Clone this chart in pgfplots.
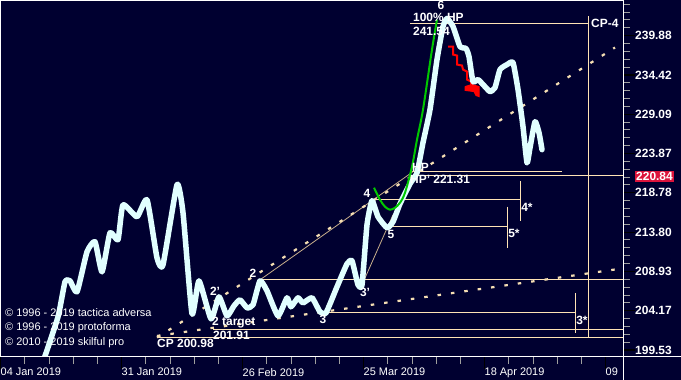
\documentclass[border=0pt]{standalone}
\usepackage{fontspec}
\setmainfont{Liberation Sans}
\usepackage{pgfplots}
\pgfplotsset{compat=1.18}
\definecolor{bg}{RGB}{0,0,48}
\definecolor{mainline}{RGB}{225,255,255}
\definecolor{lvl}{RGB}{255,228,181}
\definecolor{dotc}{RGB}{245,222,179}
\definecolor{thinc}{RGB}{200,175,140}
\definecolor{grn}{RGB}{0,200,0}
\definecolor{boxred}{RGB}{220,20,60}
\newcommand{\lbl}{\fontsize{12}{14}\selectfont\bfseries}
\newcommand{\cpy}{\fontsize{11}{13}\selectfont}
\begin{document}
\begin{tikzpicture}
\useasboundingbox (0bp,0bp) rectangle (681bp,380bp);
\fill[bg] (0bp,0bp) rectangle (681bp,380bp);
\begin{axis}[
  at={(0bp,23bp)}, anchor=south west,
  width=623bp, height=357bp, scale only axis,
  xmin=0, xmax=623,
  y coord trafo/.code={\pgfmathparse{ln(#1)}},
  y coord inv trafo/.code={\pgfmathparse{exp(#1)}},
  ymin=198.71, ymax=244.96,
  clip mode=individual,
  axis line style={white, line width=1bp},
  ytick pos=right, yticklabel pos=right,
  ytick={199.53,204.17,208.93,213.80,218.78,223.87,229.09,234.42,239.88},
  yticklabels={199.53,204.17,208.93,213.80,218.78,223.87,229.09,234.42,239.88},
  minor ytick={200.46,201.39,202.31,203.24,205.12,206.07,207.03,207.98,209.90,210.88,211.85,212.83,214.80,215.79,216.79,217.78,219.80,220.82,221.83,222.85,224.91,225.96,227.00,228.05,230.16,231.22,232.29,233.35,235.51,236.60,237.70,238.79,241.00,242.12,243.23,244.35},
  ytick align=outside,
  major tick length=12bp, minor tick length=7bp,
  major tick style={black, line width=1.2bp},
  minor tick style={gray!75, line width=0.8bp},
  yticklabel style={font=\lbl, text=white, anchor=west, inner sep=0pt},
  xtick pos=bottom,
  xtick align=outside,
  xtick={0.5,121.5,242.5,363.5,484.5,605.5},
  xticklabels={04 Jan 2019, 31 Jan 2019, 26 Feb 2019, 25 Mar 2019, 18 Apr 2019, 09},
  minor xtick={24.7,48.9,73.1,97.3,145.7,169.9,194.1,218.3,266.7,290.9,315.1,339.3,387.7,411.9,436.1,460.3,508.7,532.9,557.1,581.3},
  xticklabel style={font=\cpy, text=white, anchor=north west, inner sep=0pt, yshift=1bp},
]
% level lines
\addplot[lvl, line width=1bp] coordinates {(410,241.54) (588,241.54)};
\addplot[lvl, line width=1bp] coordinates {(412,221.49) (562,221.49)};
\addplot[lvl, line width=1bp] coordinates {(412,220.97) (623,220.97)};
\addplot[lvl, line width=1bp] coordinates {(373,217.88) (520,217.88)};
\addplot[lvl, line width=1bp] coordinates {(520,220.32) (520,215.21)};
\addplot[lvl, line width=1bp] coordinates {(388,214.46) (507,214.46)};
\addplot[lvl, line width=1bp] coordinates {(507,216.99) (507,211.83)};
\addplot[lvl, line width=1bp] coordinates {(260,207.89) (623,207.89)};
\addplot[lvl, line width=1bp] coordinates {(325,203.91) (575,203.91)};
\addplot[lvl, line width=1bp] coordinates {(575,206.31) (575,201.53)};
\addplot[lvl, line width=1bp] coordinates {(213,201.91) (623,201.91)};
\addplot[lvl, line width=1bp] coordinates {(157,200.98) (623,200.98)};
\addplot[lvl, line width=1bp] coordinates {(588,242.57) (588,200.98)};
% thin trend lines
\addplot[thinc, line width=0.8bp] coordinates {(260,207.89) (413,221.49)};
\addplot[thinc, line width=0.8bp] coordinates {(362,207.28) (393,215.97)};
% dotted channels
\addplot[dotc, line width=2.2bp, dash pattern=on 3.5bp off 10bp] coordinates {(157,200.98) (615,238.20)};
\addplot[dotc, line width=2.2bp, dash pattern=on 3.5bp off 10bp] coordinates {(157,201.17) (623,209.30)};
% red projection
\addplot[red, line width=2bp] coordinates {(448,238.34) (453,238.34) (453,237.22) (457,237.08) (457,235.83) (462,235.70) (463,235.14) (467,234.87) (467,233.77) (471,233.49) (471,232.94)};
\addplot[red, fill=red, line width=1bp] coordinates {(465,232.80) (472,233.10) (479,232.80) (479,231.45) (476,231.60) (474,232.13) (465,232.30) (465,232.80)};
% main price line
\addplot[mainline, line width=5.5bp, line join=round, line cap=round, smooth, tension=0.3] coordinates {
(43,198.13) (58,203.43) (65,207.65) (70,207.77) (77,206.43) (87,211.33) (95,212.58) (102,208.87)
(110,213.70) (118,212.83) (123,217.24) (137,215.72) (147,217.88) (157,210.59) (163,209.73) (177,219.80)
(183,216.23) (192,203.79) (199,207.77) (211,203.19) (219,205.83) (227,203.55) (234,204.75) (240,205.47)
(247,204.51) (253,204.87) (260,207.77) (267,206.56) (278,203.55) (287,205.71) (291,204.63) (298,205.71)
(303,205.11) (312,205.71) (320,204.03) (326,203.91) (337,207.04) (347,209.85) (352,210.22) (358,207.28)
(362,207.28) (367,214.71) (372,217.75) (378,215.72) (387,214.33) (393,215.09) (400,217.37) (410,219.93)
(417,221.36) (423,225.29) (430,229.69) (437,236.53) (443,241.15) (447,242.29) (453,241.15) (460,238.34)
(466,238.06) (469,236.94) (473,233.49) (478,233.77) (484,232.94) (490,232.13) (495,232.67) (500,235.14)
(507,235.83) (513,236.11) (518,232.40) (523,227.41) (527,222.66) (530,224.62) (535,228.08) (539,226.61)
(542,224.36)};
% green curve
\addplot[grn, line width=2bp, smooth, tension=0.5] coordinates {
(374,219.42) (380,217.88) (385,216.99) (390,216.61) (395,216.86) (400,217.50) (405,218.78)
(412,222.14) (417,225.68) (423,229.69) (432,237.92) (437,242.14)};
\end{axis}
% frame
\draw[white, line width=1bp] (0bp,23bp) -- (681bp,23bp);
\draw[white, line width=1bp] (623bp,0bp) -- (623bp,380bp);
\draw[white, line width=1bp] (0bp,379.5bp) -- (623bp,379.5bp);
\draw[white, line width=1bp] (0.5bp,23bp) -- (0.5bp,380bp);
% current price box
\node[fill=boxred, text=white, font=\lbl, anchor=west, inner sep=1bp] at (635bp,203.5bp) {220.84};
% annotations (image y -> 380 - y)
\begin{scope}[x=1bp, y=1bp, every node/.style={text=white, inner sep=0pt, font=\lbl}]
\node at (441,374.5) {6};
\node[anchor=west] at (413,363) {100\% HP};
\node[anchor=west] at (413,349) {241.54};
\node[anchor=west] at (591,357) {CP-4};
\node[anchor=west] at (412,213) {HP};
\node[anchor=west] at (410,201) {HP' 221.31};
\node at (367,187) {4};
\node at (391,146) {5};
\node at (527,173) {4*};
\node at (514,147) {5*};
\node at (582,60) {3*};
\node at (365,88) {3'};
\node at (323,61) {3};
\node at (253,107) {2};
\node at (215,89) {2'};
\node[anchor=west] at (212,57) {2 target};
\node[anchor=west] at (213,45) {201.91};
\node[anchor=west] at (157,37) {CP 200.98};
\node[font=\cpy, anchor=west] at (5,67) {© 1996 - 2019 tactica adversa};
\node[font=\cpy, anchor=west] at (5,52) {© 1996 - 2019 protoforma};
\node[font=\cpy, anchor=west] at (5,37) {© 2010 - 2019 skilful pro};
\end{scope}
\end{tikzpicture}
\end{document}
